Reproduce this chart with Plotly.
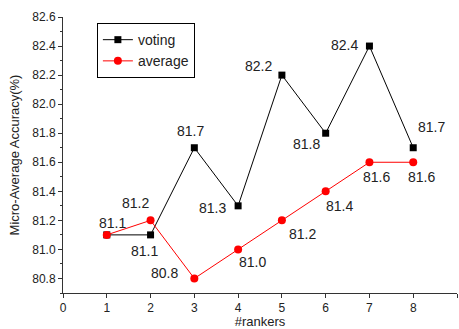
import plotly.graph_objects as go

rankers = [1, 2, 3, 4, 5, 6, 7, 8]
voting = [81.1, 81.1, 81.7, 81.3, 82.2, 81.8, 82.4, 81.7]
average = [81.1, 81.2, 80.8, 81.0, 81.2, 81.4, 81.6, 81.6]
voting_labels = ["", "81.1", "81.7", "81.3", "82.2", "81.8", "82.4", "81.7"]
average_labels = ["81.1", "81.2", "80.8", "81.0", "81.2", "81.4", "81.6", "81.6"]

# label offsets (px) : style only
voting_off = [(0, 0), (-6, -16), (-4, 17), (-26, -2), (-23, 9), (-19, -11), (-25, 1), (18, 21)]
average_off = [(6, 12), (-15, 17), (-30, 5), (14, -13), (21, -14), (14, -15), (7, -15), (8, -15)]

FONT = "Liberation Sans, Arial, sans-serif"

fig = go.Figure()
fig.add_trace(go.Scatter(x=rankers, y=voting, mode="lines+markers", name="voting",
                         line=dict(color="black", width=1),
                         marker=dict(symbol="square", size=7, color="black")))
fig.add_trace(go.Scatter(x=rankers, y=average, mode="lines+markers", name="average",
                         line=dict(color="red", width=1),
                         marker=dict(symbol="circle", size=8, color="red")))

ann = []
for x, y, t, (dx, dy) in zip(rankers, voting, voting_labels, voting_off):
    if t:
        ann.append(dict(x=x, y=y, text=t, showarrow=False, xshift=dx, yshift=dy,
                        font=dict(size=14, color="#222", family=FONT)))
for x, y, t, (dx, dy) in zip(rankers, average, average_labels, average_off):
    ann.append(dict(x=x, y=y, text=t, showarrow=False, xshift=dx, yshift=dy,
                    font=dict(size=14, color="#222", family=FONT)))

fig.update_layout(
    width=459, height=329,
    margin=dict(l=63, r=2, t=17, b=36, autoexpand=False),
    paper_bgcolor="white", plot_bgcolor="white",
    font=dict(family=FONT, color="#222", size=12),
    showlegend=True,
    legend=dict(x=0.086, y=0.978, xanchor="left", yanchor="top",
                bordercolor="black", borderwidth=1, bgcolor="white",
                font=dict(size=14, family=FONT), tracegroupgap=0, itemwidth=30),
    annotations=ann,
)
fig.update_xaxes(range=[0, 9], dtick=1, tick0=0, showline=True, linecolor="#333", linewidth=1,
                 ticks="outside", ticklen=4, tickcolor="#333", showgrid=False, zeroline=False,
                 automargin=False,
                 title=dict(text="#rankers", font=dict(size=13), standoff=4),
                 tickfont=dict(size=12))
fig.update_yaxes(range=[80.7, 82.6], dtick=0.2, tick0=80.8, tickformat=".1f",
                 showline=True, linecolor="#333", linewidth=1,
                 ticks="outside", ticklen=4, tickcolor="#333", showgrid=False, zeroline=False,
                 automargin=False,
                 minor=dict(dtick=0.1, tick0=80.7, ticks="outside", ticklen=2, tickcolor="#333"),
                 title=dict(text="Micro-Average Accuracy(%)", font=dict(size=13), standoff=9),
                 tickfont=dict(size=12))

fig.write_html("out.html", config={"displayModeBar": False},
               post_script="document.body.style.margin='0';")
